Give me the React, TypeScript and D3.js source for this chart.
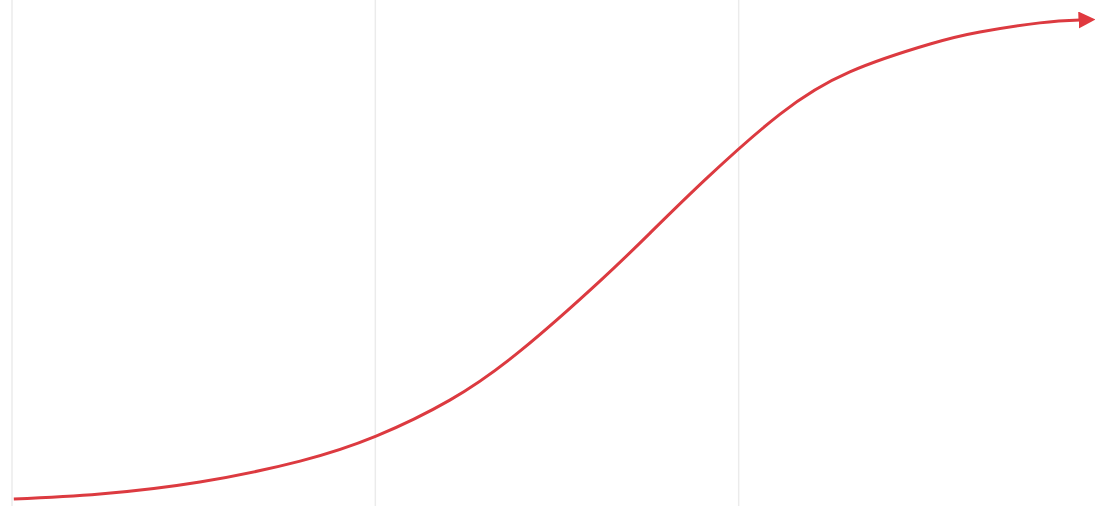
import React from "react";
import * as d3 from "d3";

const xValues = [0.005, 0.242, 0.517, 0.793, 1.002, 1.205, 1.398, 1.618, 1.756, 1.913, 2.114, 2.306, 2.527, 2.664, 2.829, 2.94];
const yValues = [0.2, 1.25, 3.75, 8.1, 13.3, 20.8, 31.0, 45.6, 55.6, 67.1, 80.4, 89.2, 95.0, 97.5, 99.4, 100];
const gridTicks = [0, 1, 2];

const W = 1098;
const H = 506;

export default function App() {
  const x = d3.scaleLinear().domain([0, 3]).range([12, 1102]);
  const y = d3.scaleLinear().domain([0, 100]).range([500, 20]);
  const pts = xValues.map((v, i) => [v, yValues[i]] as [number, number]);
  const line = d3
    .line<[number, number]>()
    .x((d) => x(d[0]))
    .y((d) => y(d[1]))
    .curve(d3.curveNatural);
  return (
    <svg
      width={W}
      height={H}
      style={{ position: "absolute", left: 0, top: 0, background: "#fff" }}
    >
      <defs>
        <marker
          id="arrow"
          viewBox="0 0 10 10"
          refX={1}
          refY={5}
          markerWidth={17}
          markerHeight={17}
          markerUnits="userSpaceOnUse"
          orient="auto"
        >
          <path d="M0,0 L10,5 L0,10 Z" fill="#e0393f" />
        </marker>
      </defs>
      {gridTicks.map((t) => (
        <line
          key={t}
          x1={x(t)}
          x2={x(t)}
          y1={0}
          y2={H}
          stroke="#ebebeb"
          strokeWidth={1.5}
        />
      ))}
      <path
        d={line(pts) || ""}
        fill="none"
        stroke="#dc3a40"
        strokeWidth={3}
        markerEnd="url(#arrow)"
      />
    </svg>
  );
}
